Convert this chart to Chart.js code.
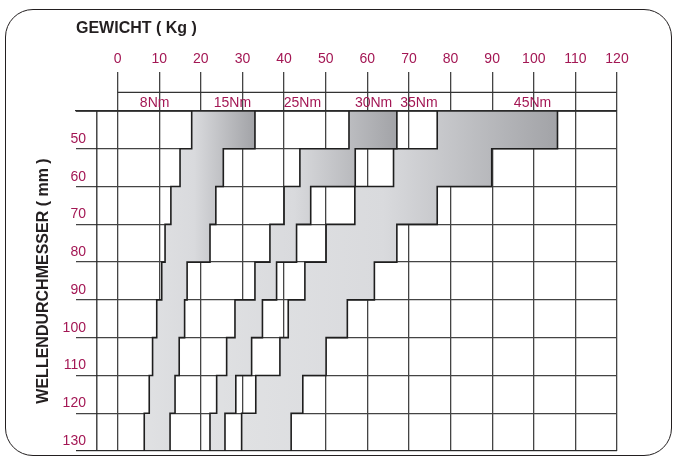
<!DOCTYPE html>
<html>
<head>
<meta charset="utf-8">
<script src="https://cdn.jsdelivr.net/npm/chart.js@4.4.1/dist/chart.umd.min.js"></script>
<style>
  html, body { margin: 0; padding: 0; background: #fff; }
  #rahmen {
    position: absolute; left: 5px; top: 9px; width: 667px; height: 447px;
    border: 1.5px solid #231f20; border-radius: 28px; box-sizing: border-box;
  }
  #wrap { position: absolute; left: 0; top: 0; width: 673px; height: 457px; }
</style>
</head>
<body>
<div id="rahmen"></div>
<div id="wrap"><canvas id="myChart"></canvas></div>
<script>
//* Daten: Wellendurchmesser (mm) und max. Gewicht (kg) je Drehmoment-Zone
const durchmesser = ["50", "60", "70", "80", "90", "100", "110", "120", "130"];
const max8Nm = [17.8, 15.0, 12.8, 11.4, 10.6, 9.4, 8.4, 7.6, 6.4];
const max15Nm = [33.0, 25.4, 23.6, 22.2, 16.7, 16.1, 14.8, 13.8, 12.6];
const max25Nm = [55.6, 43.8, 40.0, 36.6, 33.0, 28.2, 26.2, 23.8, 22.2];
const max30Nm = [67.1, 57.1, 46.4, 43.0, 38.2, 34.8, 32.2, 28.4, 25.8];
const max35Nm = [76.8, 66.3, 57.0, 50.1, 45.0, 41.0, 39.0, 33.2, 29.8];
const max45Nm = [105.7, 89.9, 76.8, 67.1, 61.7, 55.2, 50.1, 44.5, 41.7];

//* Beschriftung der Zonen im Kopf (Text + Lage in kg)
const nmTexte = ["8Nm", "15Nm", "25Nm", "30Nm", "35Nm", "45Nm"];
const nmLage = [8.9, 27.6, 44.4, 61.5, 72.4, 99.7];

const rot = "#a31754";
const schrift = "'Liberation Sans', Arial, sans-serif";

const zonen = [max8Nm, max15Nm, max25Nm, max30Nm, max35Nm, max45Nm];

//* Zeilengrenzen für die Stufenlinien (Achse "yl": 45..135)
function stufenLinie(grenzen) {
  const punkte = [];
  grenzen.forEach((kg, i) => {
    const mitte = parseInt(durchmesser[i]);
    punkte.push({ x: kg, y: mitte - 5 });
    punkte.push({ x: kg, y: mitte + 5 });
  });
  return punkte;
}

//* Verlauf hell -> dunkel über die ganze Zone
function grauVerlauf(context) {
  const chart = context.chart;
  if (!chart.chartArea) return "#d9dadd";
  const ds = chart.data.datasets[context.datasetIndex];
  const links = Math.min(...ds.data.map((d) => d[0]));
  const rechts = Math.max(...ds.data.map((d) => d[1]));
  const x = chart.scales.x;
  const g = chart.ctx.createLinearGradient(x.getPixelForValue(links), 0, x.getPixelForValue(rechts), 0);
  g.addColorStop(0, "#e0e1e3");
  g.addColorStop(0.45, "#d9dadd");
  g.addColorStop(1, "#a2a3a7");
  return g;
}

const datasets = [];

//* graue Zonen: 15Nm, 30Nm, 45Nm
[1, 3, 5].forEach((z) => {
  datasets.push({
    type: "bar",
    label: nmTexte[z],
    data: durchmesser.map((_, i) => [zonen[z - 1][i], zonen[z][i]]),
    backgroundColor: grauVerlauf,
    borderWidth: 0,
    grouped: false,
    barPercentage: 1,
    categoryPercentage: 1,
    xAxisID: "x",
    yAxisID: "y",
    order: 2,
  });
});

//* schwarze Stufenlinien der Zonengrenzen
zonen.forEach((grenzen, z) => {
  datasets.push({
    type: "line",
    label: "Grenze " + nmTexte[z],
    data: stufenLinie(grenzen),
    indexAxis: "x",
    borderColor: "#1e1e1e",
    borderWidth: 1.6,
    pointRadius: 0,
    fill: false,
    tension: 0,
    xAxisID: "x",
    yAxisID: "yl",
    order: 0,
  });
});

//* Rahmenlinien oben, unten und Hilfslinie links
[
  [{ x: -10, y: 45 }, { x: 120, y: 45 }],
  [{ x: -10, y: 135 }, { x: 120, y: 135 }],
  [{ x: -5, y: 45 }, { x: -5, y: 135 }],
].forEach((linie, i) => {
  datasets.push({
    type: "line",
    data: linie,
    indexAxis: "x",
    borderColor: "#2a2a2a",
    borderWidth: i == 1 ? 1.8 : 1.3,
    pointRadius: 0,
    fill: false,
    xAxisID: "x",
    yAxisID: "yl",
    order: 1,
  });
});

//* Plugin für Kopfzeile mit Nm-Angaben
const nmKopf = {
  id: "nmKopf",
  afterDraw(chart) {
    const { ctx, chartArea, scales } = chart;
    const x = scales.x;
    const yLinie = chartArea.top - 18.7;
    ctx.save();
    ctx.strokeStyle = "#333";
    ctx.lineWidth = 1.3;
    ctx.beginPath();
    ctx.moveTo(x.getPixelForValue(0), yLinie);
    ctx.lineTo(x.getPixelForValue(120), yLinie);
    ctx.stroke();
    ctx.fillStyle = rot;
    ctx.font = "14px " + schrift;
    ctx.textAlign = "center";
    ctx.textBaseline = "middle";
    nmTexte.forEach((t, i) => {
      ctx.fillText(t, x.getPixelForValue(nmLage[i]), chartArea.top - 8);
    });
    ctx.restore();
  },
};

const config = {
  data: { labels: durchmesser, datasets: datasets },
  plugins: [nmKopf],
  options: {
    indexAxis: "y",
    responsive: true,
    maintainAspectRatio: false,
    animation: false,
    layout: { padding: { left: 0, top: 0, right: 56, bottom: 6 } },
    plugins: { legend: { display: false }, tooltip: { enabled: false } },
    scales: {
      x: {
        type: "linear",
        position: "top",
        min: -10,
        max: 120,
        ticks: {
          stepSize: 10,
          color: rot,
          font: { family: schrift, size: 14 },
          padding: 4,
          callback: (v) => (v < 0 ? "" : v),
        },
        grid: {
          color: (c) => (c.tick && c.tick.value < 0 ? "rgba(0,0,0,0)" : "#444"),
          lineWidth: 1.3,
          tickLength: 39,
        },
        border: { display: true, color: "#2a2a2a", width: 1.3 },
        title: {
          display: true,
          text: "GEWICHT ( Kg )",
          align: "start",
          color: "#231f20",
          font: { family: schrift, size: 16, weight: "bold" },
          padding: { top: 19, bottom: 0 },
        },
        afterFit: (s) => {
          s.height = 111;
        },
      },
      y: {
        type: "category",
        position: "left",
        offset: true,
        grid: { offset: true, color: "#444", lineWidth: 1.3, drawTicks: false },
        border: { display: false },
        ticks: {
          color: rot,
          font: { family: schrift, size: 14 },
          mirror: true,
          crossAlign: "far",
          padding: -13.4,
          labelOffset: 9,
        },
        title: {
          display: true,
          text: "WELLENDURCHMESSER ( mm )",
          color: "#231f20",
          font: { family: schrift, size: 16, weight: "bold" },
          padding: { top: 34, bottom: 0 },
        },
        afterFit: (s) => {
          s.width = 76;
        },
      },
      yl: { type: "linear", min: 45, max: 135, reverse: true, display: false },
    },
  },
};

new Chart(document.getElementById("myChart"), config);
</script>
</body>
</html>
